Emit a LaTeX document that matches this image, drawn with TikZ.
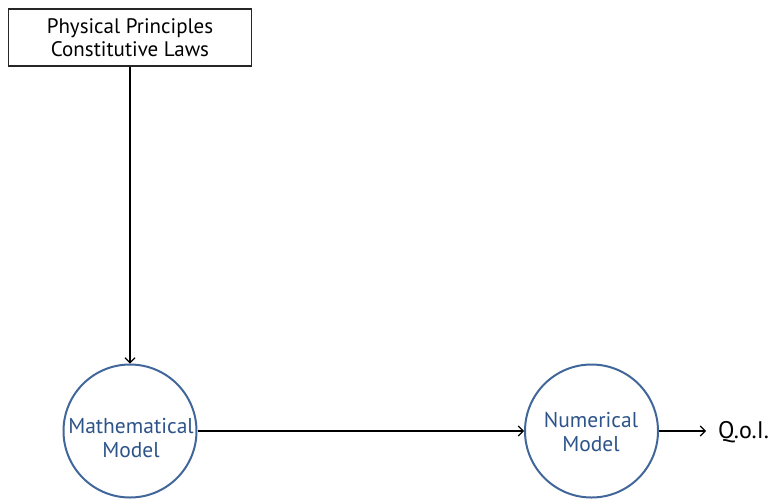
\documentclass[tikz,border=0pt]{standalone}
\usepackage{fontspec}
\setmainfont{PT Sans}
\usetikzlibrary{arrows.meta}
\definecolor{ringblue}{HTML}{41679A}
\definecolor{textblue}{HTML}{2D5489}
\begin{document}
\begin{tikzpicture}[x=1pt,y=-1pt,
  box/.style={draw=black!85, line width=1.2pt, minimum width=243pt, minimum height=57pt,
    inner sep=0pt, align=center, font=\fontsize{21}{23}\selectfont},
  model/.style={circle, draw=ringblue, line width=2pt, minimum size=133pt, inner sep=0pt},
  modeltext/.style={align=center, text=textblue, inner sep=0pt, font=\fontsize{21.5}{24}\selectfont},
  plain/.style={inner sep=0pt, font=\fontsize{24}{26}\selectfont},
  flow/.style={-{Straight Barb[length=5pt,width=10pt]}, line width=1.1pt}]
\useasboundingbox (0,0) rectangle (773,498);
% input box
\node[box] (laws) at (130,37.5) {Physical Principles\\Constitutive Laws};
% model circles
\node[model] (math) at (130,431) {};
\node[modeltext] (mathtxt) at (131,438) {Mathematical\\Model};
\node[model] (num) at (591.5,431) {};
\node[modeltext] (numtxt) at (591,432) {Numerical\\Model};
% output
\node[plain, anchor=west] (qoi) at (718,432) {Q.o.I.};
\coordinate (qin) at (706,431);
% connectors
\draw[flow] (laws.south) -- (math.north);
\draw[flow] (math.east) -- (num.west);
\draw[flow] (num.east) -- (qin);
\end{tikzpicture}
\end{document}
